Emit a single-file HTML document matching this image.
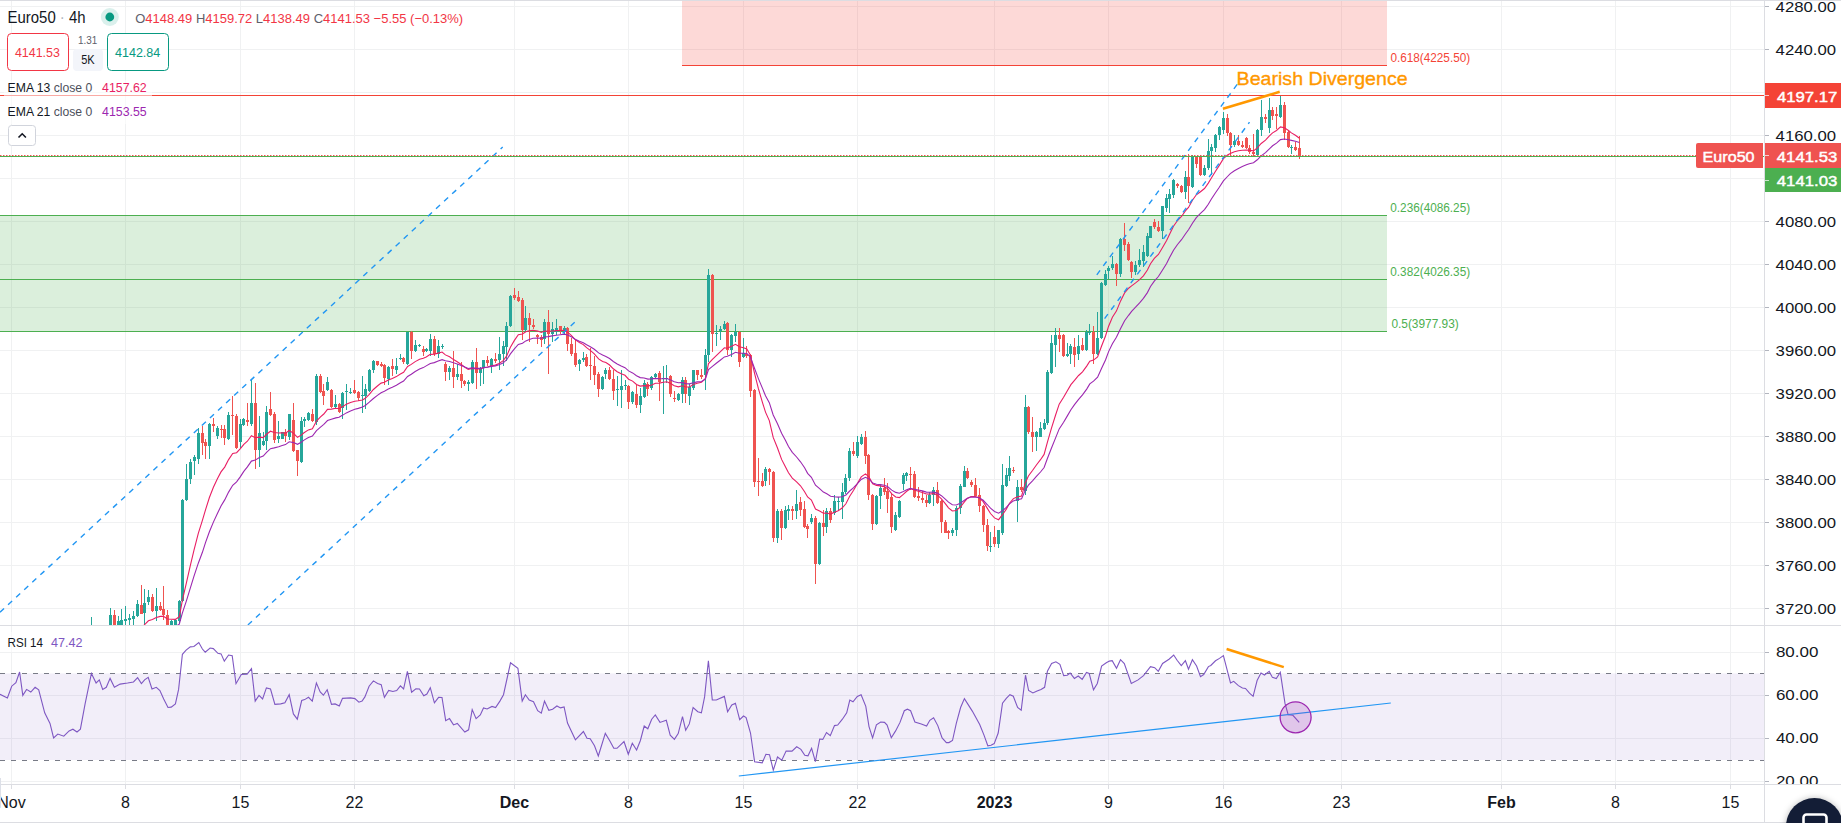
<!DOCTYPE html>
<html><head><meta charset="utf-8"><style>
html,body{margin:0;padding:0;background:#fff;}
body{width:1841px;height:823px;overflow:hidden;position:relative;font-family:'Liberation Sans', sans-serif;}
svg{position:absolute;left:0;top:0;display:block;}
text{font-family:'Liberation Sans', sans-serif;}
</style></head><body>
<svg width="1841" height="823" viewBox="0 0 1841 823">
<defs>
<clipPath id="cm"><rect x="0" y="1" width="1764" height="624"/></clipPath>
<clipPath id="cr"><rect x="0" y="626" width="1764" height="158"/></clipPath>
<clipPath id="ca"><rect x="1765" y="626" width="76" height="158"/></clipPath>
<filter id="sh" x="-50%" y="-50%" width="200%" height="200%"><feGaussianBlur stdDeviation="3"/></filter>
</defs>
<rect x="0" y="0" width="1841" height="823" fill="#ffffff"/>

<g clip-path="url(#cm)">
<line x1="11.5" y1="0" x2="11.5" y2="625" stroke="#f0f1f2" stroke-width="1"/>
<line x1="125.5" y1="0" x2="125.5" y2="625" stroke="#f0f1f2" stroke-width="1"/>
<line x1="240.5" y1="0" x2="240.5" y2="625" stroke="#f0f1f2" stroke-width="1"/>
<line x1="354.5" y1="0" x2="354.5" y2="625" stroke="#f0f1f2" stroke-width="1"/>
<line x1="514.5" y1="0" x2="514.5" y2="625" stroke="#f0f1f2" stroke-width="1"/>
<line x1="628.5" y1="0" x2="628.5" y2="625" stroke="#f0f1f2" stroke-width="1"/>
<line x1="743.5" y1="0" x2="743.5" y2="625" stroke="#f0f1f2" stroke-width="1"/>
<line x1="857.5" y1="0" x2="857.5" y2="625" stroke="#f0f1f2" stroke-width="1"/>
<line x1="994.5" y1="0" x2="994.5" y2="625" stroke="#f0f1f2" stroke-width="1"/>
<line x1="1108.5" y1="0" x2="1108.5" y2="625" stroke="#f0f1f2" stroke-width="1"/>
<line x1="1223.5" y1="0" x2="1223.5" y2="625" stroke="#f0f1f2" stroke-width="1"/>
<line x1="1341.5" y1="0" x2="1341.5" y2="625" stroke="#f0f1f2" stroke-width="1"/>
<line x1="1501.5" y1="0" x2="1501.5" y2="625" stroke="#f0f1f2" stroke-width="1"/>
<line x1="1615.5" y1="0" x2="1615.5" y2="625" stroke="#f0f1f2" stroke-width="1"/>
<line x1="1730.5" y1="0" x2="1730.5" y2="625" stroke="#f0f1f2" stroke-width="1"/>
<line x1="0" y1="6.5" x2="1764" y2="6.5" stroke="#f0f1f2" stroke-width="1"/>
<line x1="0" y1="49.5" x2="1764" y2="49.5" stroke="#f0f1f2" stroke-width="1"/>
<line x1="0" y1="92.5" x2="1764" y2="92.5" stroke="#f0f1f2" stroke-width="1"/>
<line x1="0" y1="135.5" x2="1764" y2="135.5" stroke="#f0f1f2" stroke-width="1"/>
<line x1="0" y1="178.5" x2="1764" y2="178.5" stroke="#f0f1f2" stroke-width="1"/>
<line x1="0" y1="221.5" x2="1764" y2="221.5" stroke="#f0f1f2" stroke-width="1"/>
<line x1="0" y1="264.5" x2="1764" y2="264.5" stroke="#f0f1f2" stroke-width="1"/>
<line x1="0" y1="307.5" x2="1764" y2="307.5" stroke="#f0f1f2" stroke-width="1"/>
<line x1="0" y1="350.5" x2="1764" y2="350.5" stroke="#f0f1f2" stroke-width="1"/>
<line x1="0" y1="393.5" x2="1764" y2="393.5" stroke="#f0f1f2" stroke-width="1"/>
<line x1="0" y1="436.5" x2="1764" y2="436.5" stroke="#f0f1f2" stroke-width="1"/>
<line x1="0" y1="479.5" x2="1764" y2="479.5" stroke="#f0f1f2" stroke-width="1"/>
<line x1="0" y1="522.5" x2="1764" y2="522.5" stroke="#f0f1f2" stroke-width="1"/>
<line x1="0" y1="565.5" x2="1764" y2="565.5" stroke="#f0f1f2" stroke-width="1"/>
<line x1="0" y1="608.5" x2="1764" y2="608.5" stroke="#f0f1f2" stroke-width="1"/>
<rect x="682" y="0" width="705" height="65" fill="rgba(244,67,54,0.2)"/>
<rect x="0" y="215.5" width="1387" height="115.5" fill="rgba(76,175,80,0.2)"/>
<line x1="682" y1="65.5" x2="1387" y2="65.5" stroke="#f44336" stroke-width="1"/>
<line x1="0" y1="215.5" x2="1387" y2="215.5" stroke="#4caf50" stroke-width="1"/>
<line x1="0" y1="279.5" x2="1387" y2="279.5" stroke="#4caf50" stroke-width="1"/>
<line x1="0" y1="331.5" x2="1387" y2="331.5" stroke="#4caf50" stroke-width="1"/>
<line x1="0" y1="95.5" x2="1764" y2="95.5" stroke="#f44336" stroke-width="1"/>
<rect x="91" y="617" width="1" height="24" fill="#26a69a"/>
<rect x="90" y="630" width="3" height="10" fill="#26a69a"/>
<rect x="95" y="638" width="1" height="5" fill="#ef5350"/>
<rect x="94" y="640" width="3" height="1" fill="#ef5350"/>
<rect x="99" y="638" width="1" height="5" fill="#ef5350"/>
<rect x="98" y="640" width="3" height="1" fill="#ef5350"/>
<rect x="102" y="638" width="1" height="5" fill="#ef5350"/>
<rect x="101" y="640" width="3" height="1" fill="#ef5350"/>
<rect x="106" y="638" width="1" height="5" fill="#ef5350"/>
<rect x="105" y="640" width="3" height="1" fill="#ef5350"/>
<rect x="110" y="608" width="1" height="19" fill="#26a69a"/>
<rect x="109" y="615" width="3" height="10" fill="#26a69a"/>
<rect x="114" y="610" width="1" height="17" fill="#ef5350"/>
<rect x="113" y="615" width="3" height="10" fill="#ef5350"/>
<rect x="118" y="616" width="1" height="10" fill="#26a69a"/>
<rect x="117" y="621" width="3" height="4" fill="#26a69a"/>
<rect x="121" y="609" width="1" height="17" fill="#26a69a"/>
<rect x="120" y="620" width="3" height="5" fill="#26a69a"/>
<rect x="125" y="606" width="1" height="19" fill="#26a69a"/>
<rect x="124" y="619" width="3" height="2" fill="#26a69a"/>
<rect x="129" y="614" width="1" height="11" fill="#26a69a"/>
<rect x="128" y="618" width="3" height="2" fill="#26a69a"/>
<rect x="133" y="611" width="1" height="14" fill="#26a69a"/>
<rect x="132" y="616" width="3" height="3" fill="#26a69a"/>
<rect x="137" y="600" width="1" height="17" fill="#26a69a"/>
<rect x="136" y="604" width="3" height="12" fill="#26a69a"/>
<rect x="141" y="585" width="1" height="29" fill="#ef5350"/>
<rect x="140" y="605" width="3" height="9" fill="#ef5350"/>
<rect x="144" y="589" width="1" height="36" fill="#26a69a"/>
<rect x="143" y="603" width="3" height="10" fill="#26a69a"/>
<rect x="148" y="590" width="1" height="15" fill="#26a69a"/>
<rect x="147" y="597" width="3" height="5" fill="#26a69a"/>
<rect x="152" y="594" width="1" height="18" fill="#ef5350"/>
<rect x="151" y="597" width="3" height="14" fill="#ef5350"/>
<rect x="156" y="588" width="1" height="33" fill="#26a69a"/>
<rect x="155" y="606" width="3" height="5" fill="#26a69a"/>
<rect x="160" y="602" width="1" height="9" fill="#ef5350"/>
<rect x="159" y="606" width="3" height="4" fill="#ef5350"/>
<rect x="163" y="586" width="1" height="34" fill="#ef5350"/>
<rect x="162" y="609" width="3" height="6" fill="#ef5350"/>
<rect x="167" y="610" width="1" height="28" fill="#ef5350"/>
<rect x="166" y="615" width="3" height="21" fill="#ef5350"/>
<rect x="171" y="620" width="1" height="17" fill="#26a69a"/>
<rect x="170" y="621" width="3" height="15" fill="#26a69a"/>
<rect x="175" y="619" width="1" height="12" fill="#26a69a"/>
<rect x="174" y="620" width="3" height="10" fill="#26a69a"/>
<rect x="179" y="600" width="1" height="24" fill="#26a69a"/>
<rect x="178" y="601" width="3" height="20" fill="#26a69a"/>
<rect x="182" y="499" width="1" height="103" fill="#26a69a"/>
<rect x="181" y="500" width="3" height="101" fill="#26a69a"/>
<rect x="186" y="464" width="1" height="37" fill="#26a69a"/>
<rect x="185" y="479" width="3" height="21" fill="#26a69a"/>
<rect x="190" y="459" width="1" height="25" fill="#26a69a"/>
<rect x="189" y="462" width="3" height="17" fill="#26a69a"/>
<rect x="194" y="455" width="1" height="20" fill="#26a69a"/>
<rect x="193" y="457" width="3" height="4" fill="#26a69a"/>
<rect x="198" y="428" width="1" height="36" fill="#26a69a"/>
<rect x="197" y="433" width="3" height="26" fill="#26a69a"/>
<rect x="202" y="426" width="1" height="29" fill="#ef5350"/>
<rect x="201" y="433" width="3" height="10" fill="#ef5350"/>
<rect x="205" y="439" width="1" height="20" fill="#ef5350"/>
<rect x="204" y="442" width="3" height="4" fill="#ef5350"/>
<rect x="209" y="423" width="1" height="36" fill="#26a69a"/>
<rect x="208" y="424" width="3" height="22" fill="#26a69a"/>
<rect x="213" y="418" width="1" height="14" fill="#ef5350"/>
<rect x="212" y="424" width="3" height="2" fill="#ef5350"/>
<rect x="217" y="426" width="1" height="13" fill="#26a69a"/>
<rect x="216" y="428" width="3" height="8" fill="#26a69a"/>
<rect x="221" y="425" width="1" height="13" fill="#ef5350"/>
<rect x="220" y="429" width="3" height="1" fill="#ef5350"/>
<rect x="224" y="425" width="1" height="20" fill="#ef5350"/>
<rect x="223" y="429" width="3" height="9" fill="#ef5350"/>
<rect x="228" y="412" width="1" height="28" fill="#26a69a"/>
<rect x="227" y="415" width="3" height="24" fill="#26a69a"/>
<rect x="232" y="396" width="1" height="39" fill="#ef5350"/>
<rect x="231" y="415" width="3" height="1" fill="#ef5350"/>
<rect x="236" y="414" width="1" height="35" fill="#ef5350"/>
<rect x="235" y="416" width="3" height="32" fill="#ef5350"/>
<rect x="240" y="419" width="1" height="29" fill="#26a69a"/>
<rect x="239" y="424" width="3" height="18" fill="#26a69a"/>
<rect x="243" y="418" width="1" height="8" fill="#26a69a"/>
<rect x="242" y="419" width="3" height="6" fill="#26a69a"/>
<rect x="247" y="403" width="1" height="23" fill="#ef5350"/>
<rect x="246" y="420" width="3" height="2" fill="#ef5350"/>
<rect x="251" y="379" width="1" height="47" fill="#26a69a"/>
<rect x="250" y="403" width="3" height="21" fill="#26a69a"/>
<rect x="255" y="383" width="1" height="86" fill="#ef5350"/>
<rect x="254" y="403" width="3" height="47" fill="#ef5350"/>
<rect x="259" y="416" width="1" height="51" fill="#26a69a"/>
<rect x="258" y="433" width="3" height="17" fill="#26a69a"/>
<rect x="263" y="432" width="1" height="14" fill="#26a69a"/>
<rect x="262" y="441" width="3" height="4" fill="#26a69a"/>
<rect x="266" y="406" width="1" height="44" fill="#26a69a"/>
<rect x="265" y="412" width="3" height="29" fill="#26a69a"/>
<rect x="270" y="392" width="1" height="24" fill="#ef5350"/>
<rect x="269" y="409" width="3" height="6" fill="#ef5350"/>
<rect x="274" y="412" width="1" height="31" fill="#ef5350"/>
<rect x="273" y="414" width="3" height="26" fill="#ef5350"/>
<rect x="278" y="421" width="1" height="22" fill="#26a69a"/>
<rect x="277" y="436" width="3" height="3" fill="#26a69a"/>
<rect x="282" y="432" width="1" height="7" fill="#26a69a"/>
<rect x="281" y="432" width="3" height="7" fill="#26a69a"/>
<rect x="285" y="429" width="1" height="13" fill="#ef5350"/>
<rect x="284" y="432" width="3" height="4" fill="#ef5350"/>
<rect x="289" y="414" width="1" height="26" fill="#26a69a"/>
<rect x="288" y="414" width="3" height="23" fill="#26a69a"/>
<rect x="293" y="403" width="1" height="49" fill="#ef5350"/>
<rect x="292" y="420" width="3" height="31" fill="#ef5350"/>
<rect x="297" y="450" width="1" height="26" fill="#ef5350"/>
<rect x="296" y="450" width="3" height="11" fill="#ef5350"/>
<rect x="301" y="417" width="1" height="46" fill="#26a69a"/>
<rect x="300" y="421" width="3" height="41" fill="#26a69a"/>
<rect x="304" y="417" width="1" height="10" fill="#26a69a"/>
<rect x="303" y="419" width="3" height="2" fill="#26a69a"/>
<rect x="308" y="412" width="1" height="9" fill="#26a69a"/>
<rect x="307" y="413" width="3" height="7" fill="#26a69a"/>
<rect x="312" y="409" width="1" height="13" fill="#ef5350"/>
<rect x="311" y="414" width="3" height="7" fill="#ef5350"/>
<rect x="316" y="374" width="1" height="51" fill="#26a69a"/>
<rect x="315" y="376" width="3" height="46" fill="#26a69a"/>
<rect x="320" y="374" width="1" height="19" fill="#ef5350"/>
<rect x="319" y="376" width="3" height="16" fill="#ef5350"/>
<rect x="323" y="384" width="1" height="21" fill="#ef5350"/>
<rect x="322" y="391" width="3" height="5" fill="#ef5350"/>
<rect x="327" y="377" width="1" height="14" fill="#26a69a"/>
<rect x="326" y="382" width="3" height="8" fill="#26a69a"/>
<rect x="331" y="389" width="1" height="19" fill="#ef5350"/>
<rect x="330" y="390" width="3" height="17" fill="#ef5350"/>
<rect x="335" y="395" width="1" height="13" fill="#26a69a"/>
<rect x="334" y="404" width="3" height="3" fill="#26a69a"/>
<rect x="339" y="403" width="1" height="10" fill="#ef5350"/>
<rect x="338" y="404" width="3" height="8" fill="#ef5350"/>
<rect x="342" y="392" width="1" height="27" fill="#26a69a"/>
<rect x="341" y="393" width="3" height="15" fill="#26a69a"/>
<rect x="346" y="384" width="1" height="26" fill="#26a69a"/>
<rect x="345" y="391" width="3" height="1" fill="#26a69a"/>
<rect x="350" y="388" width="1" height="6" fill="#26a69a"/>
<rect x="349" y="392" width="3" height="1" fill="#26a69a"/>
<rect x="354" y="380" width="1" height="14" fill="#ef5350"/>
<rect x="353" y="390" width="3" height="3" fill="#ef5350"/>
<rect x="358" y="391" width="1" height="10" fill="#ef5350"/>
<rect x="357" y="392" width="3" height="6" fill="#ef5350"/>
<rect x="362" y="376" width="1" height="37" fill="#26a69a"/>
<rect x="361" y="395" width="3" height="1" fill="#26a69a"/>
<rect x="365" y="384" width="1" height="25" fill="#26a69a"/>
<rect x="364" y="389" width="3" height="7" fill="#26a69a"/>
<rect x="369" y="369" width="1" height="23" fill="#26a69a"/>
<rect x="368" y="370" width="3" height="21" fill="#26a69a"/>
<rect x="373" y="360" width="1" height="13" fill="#26a69a"/>
<rect x="372" y="361" width="3" height="9" fill="#26a69a"/>
<rect x="377" y="361" width="1" height="5" fill="#ef5350"/>
<rect x="376" y="361" width="3" height="4" fill="#ef5350"/>
<rect x="381" y="362" width="1" height="5" fill="#ef5350"/>
<rect x="380" y="364" width="3" height="2" fill="#ef5350"/>
<rect x="384" y="364" width="1" height="21" fill="#ef5350"/>
<rect x="383" y="365" width="3" height="13" fill="#ef5350"/>
<rect x="388" y="366" width="1" height="19" fill="#26a69a"/>
<rect x="387" y="367" width="3" height="12" fill="#26a69a"/>
<rect x="392" y="359" width="1" height="17" fill="#ef5350"/>
<rect x="391" y="366" width="3" height="3" fill="#ef5350"/>
<rect x="396" y="358" width="1" height="16" fill="#26a69a"/>
<rect x="395" y="366" width="3" height="4" fill="#26a69a"/>
<rect x="400" y="354" width="1" height="6" fill="#26a69a"/>
<rect x="399" y="358" width="3" height="1" fill="#26a69a"/>
<rect x="403" y="357" width="1" height="7" fill="#ef5350"/>
<rect x="402" y="358" width="3" height="4" fill="#ef5350"/>
<rect x="407" y="332" width="1" height="33" fill="#26a69a"/>
<rect x="406" y="332" width="3" height="32" fill="#26a69a"/>
<rect x="411" y="331" width="1" height="28" fill="#ef5350"/>
<rect x="410" y="332" width="3" height="19" fill="#ef5350"/>
<rect x="415" y="340" width="1" height="12" fill="#26a69a"/>
<rect x="414" y="345" width="3" height="6" fill="#26a69a"/>
<rect x="419" y="344" width="1" height="3" fill="#26a69a"/>
<rect x="418" y="345" width="3" height="1" fill="#26a69a"/>
<rect x="423" y="346" width="1" height="10" fill="#ef5350"/>
<rect x="422" y="349" width="3" height="3" fill="#ef5350"/>
<rect x="426" y="348" width="1" height="4" fill="#26a69a"/>
<rect x="425" y="349" width="3" height="2" fill="#26a69a"/>
<rect x="430" y="334" width="1" height="22" fill="#26a69a"/>
<rect x="429" y="339" width="3" height="12" fill="#26a69a"/>
<rect x="434" y="336" width="1" height="20" fill="#ef5350"/>
<rect x="433" y="339" width="3" height="15" fill="#ef5350"/>
<rect x="438" y="340" width="1" height="18" fill="#26a69a"/>
<rect x="437" y="346" width="3" height="8" fill="#26a69a"/>
<rect x="442" y="344" width="1" height="5" fill="#26a69a"/>
<rect x="441" y="346" width="3" height="1" fill="#26a69a"/>
<rect x="445" y="362" width="1" height="19" fill="#ef5350"/>
<rect x="444" y="364" width="3" height="8" fill="#ef5350"/>
<rect x="449" y="366" width="1" height="14" fill="#26a69a"/>
<rect x="448" y="368" width="3" height="4" fill="#26a69a"/>
<rect x="453" y="351" width="1" height="37" fill="#ef5350"/>
<rect x="452" y="368" width="3" height="9" fill="#ef5350"/>
<rect x="457" y="364" width="1" height="16" fill="#26a69a"/>
<rect x="456" y="374" width="3" height="3" fill="#26a69a"/>
<rect x="461" y="362" width="1" height="26" fill="#ef5350"/>
<rect x="460" y="374" width="3" height="7" fill="#ef5350"/>
<rect x="464" y="380" width="1" height="6" fill="#ef5350"/>
<rect x="463" y="381" width="3" height="3" fill="#ef5350"/>
<rect x="468" y="380" width="1" height="11" fill="#26a69a"/>
<rect x="467" y="382" width="3" height="2" fill="#26a69a"/>
<rect x="472" y="360" width="1" height="24" fill="#26a69a"/>
<rect x="471" y="362" width="3" height="21" fill="#26a69a"/>
<rect x="476" y="348" width="1" height="41" fill="#ef5350"/>
<rect x="475" y="362" width="3" height="11" fill="#ef5350"/>
<rect x="480" y="367" width="1" height="19" fill="#26a69a"/>
<rect x="479" y="368" width="3" height="5" fill="#26a69a"/>
<rect x="483" y="360" width="1" height="24" fill="#26a69a"/>
<rect x="482" y="360" width="3" height="8" fill="#26a69a"/>
<rect x="487" y="356" width="1" height="10" fill="#ef5350"/>
<rect x="486" y="360" width="3" height="3" fill="#ef5350"/>
<rect x="491" y="358" width="1" height="15" fill="#26a69a"/>
<rect x="490" y="359" width="3" height="7" fill="#26a69a"/>
<rect x="495" y="353" width="1" height="10" fill="#ef5350"/>
<rect x="494" y="359" width="3" height="2" fill="#ef5350"/>
<rect x="499" y="337" width="1" height="33" fill="#26a69a"/>
<rect x="498" y="354" width="3" height="6" fill="#26a69a"/>
<rect x="503" y="341" width="1" height="25" fill="#26a69a"/>
<rect x="502" y="346" width="3" height="8" fill="#26a69a"/>
<rect x="506" y="322" width="1" height="39" fill="#26a69a"/>
<rect x="505" y="326" width="3" height="21" fill="#26a69a"/>
<rect x="510" y="295" width="1" height="32" fill="#26a69a"/>
<rect x="509" y="296" width="3" height="30" fill="#26a69a"/>
<rect x="514" y="288" width="1" height="12" fill="#ef5350"/>
<rect x="513" y="295" width="3" height="3" fill="#ef5350"/>
<rect x="518" y="291" width="1" height="11" fill="#ef5350"/>
<rect x="517" y="297" width="3" height="4" fill="#ef5350"/>
<rect x="522" y="298" width="1" height="42" fill="#ef5350"/>
<rect x="521" y="300" width="3" height="30" fill="#ef5350"/>
<rect x="525" y="306" width="1" height="26" fill="#26a69a"/>
<rect x="524" y="318" width="3" height="12" fill="#26a69a"/>
<rect x="529" y="313" width="1" height="29" fill="#ef5350"/>
<rect x="528" y="318" width="3" height="7" fill="#ef5350"/>
<rect x="533" y="319" width="1" height="10" fill="#ef5350"/>
<rect x="532" y="325" width="3" height="2" fill="#ef5350"/>
<rect x="537" y="334" width="1" height="10" fill="#ef5350"/>
<rect x="536" y="335" width="3" height="2" fill="#ef5350"/>
<rect x="541" y="335" width="1" height="12" fill="#ef5350"/>
<rect x="540" y="337" width="3" height="3" fill="#ef5350"/>
<rect x="544" y="319" width="1" height="25" fill="#26a69a"/>
<rect x="543" y="322" width="3" height="17" fill="#26a69a"/>
<rect x="548" y="310" width="1" height="64" fill="#ef5350"/>
<rect x="547" y="322" width="3" height="12" fill="#ef5350"/>
<rect x="552" y="322" width="1" height="20" fill="#26a69a"/>
<rect x="551" y="329" width="3" height="5" fill="#26a69a"/>
<rect x="556" y="319" width="1" height="16" fill="#26a69a"/>
<rect x="555" y="328" width="3" height="4" fill="#26a69a"/>
<rect x="560" y="326" width="1" height="8" fill="#ef5350"/>
<rect x="559" y="326" width="3" height="4" fill="#ef5350"/>
<rect x="564" y="326" width="1" height="8" fill="#26a69a"/>
<rect x="563" y="328" width="3" height="2" fill="#26a69a"/>
<rect x="567" y="327" width="1" height="24" fill="#ef5350"/>
<rect x="566" y="328" width="3" height="16" fill="#ef5350"/>
<rect x="571" y="338" width="1" height="18" fill="#ef5350"/>
<rect x="570" y="344" width="3" height="10" fill="#ef5350"/>
<rect x="575" y="340" width="1" height="27" fill="#ef5350"/>
<rect x="574" y="353" width="3" height="12" fill="#ef5350"/>
<rect x="579" y="359" width="1" height="12" fill="#26a69a"/>
<rect x="578" y="360" width="3" height="4" fill="#26a69a"/>
<rect x="583" y="352" width="1" height="10" fill="#26a69a"/>
<rect x="582" y="358" width="3" height="2" fill="#26a69a"/>
<rect x="586" y="354" width="1" height="13" fill="#ef5350"/>
<rect x="585" y="357" width="3" height="9" fill="#ef5350"/>
<rect x="590" y="348" width="1" height="32" fill="#ef5350"/>
<rect x="589" y="365" width="3" height="1" fill="#ef5350"/>
<rect x="594" y="356" width="1" height="29" fill="#ef5350"/>
<rect x="593" y="366" width="3" height="9" fill="#ef5350"/>
<rect x="598" y="372" width="1" height="25" fill="#ef5350"/>
<rect x="597" y="374" width="3" height="15" fill="#ef5350"/>
<rect x="602" y="376" width="1" height="14" fill="#26a69a"/>
<rect x="601" y="377" width="3" height="12" fill="#26a69a"/>
<rect x="605" y="368" width="1" height="11" fill="#26a69a"/>
<rect x="604" y="370" width="3" height="4" fill="#26a69a"/>
<rect x="609" y="367" width="1" height="13" fill="#ef5350"/>
<rect x="608" y="370" width="3" height="9" fill="#ef5350"/>
<rect x="613" y="370" width="1" height="30" fill="#ef5350"/>
<rect x="612" y="379" width="3" height="12" fill="#ef5350"/>
<rect x="617" y="376" width="1" height="30" fill="#26a69a"/>
<rect x="616" y="389" width="3" height="1" fill="#26a69a"/>
<rect x="621" y="370" width="1" height="38" fill="#26a69a"/>
<rect x="620" y="386" width="3" height="4" fill="#26a69a"/>
<rect x="625" y="380" width="1" height="10" fill="#26a69a"/>
<rect x="624" y="385" width="3" height="1" fill="#26a69a"/>
<rect x="628" y="385" width="1" height="24" fill="#ef5350"/>
<rect x="627" y="386" width="3" height="16" fill="#ef5350"/>
<rect x="632" y="391" width="1" height="13" fill="#26a69a"/>
<rect x="631" y="392" width="3" height="10" fill="#26a69a"/>
<rect x="636" y="385" width="1" height="23" fill="#ef5350"/>
<rect x="635" y="394" width="3" height="11" fill="#ef5350"/>
<rect x="640" y="388" width="1" height="25" fill="#26a69a"/>
<rect x="639" y="396" width="3" height="9" fill="#26a69a"/>
<rect x="644" y="380" width="1" height="18" fill="#26a69a"/>
<rect x="643" y="383" width="3" height="14" fill="#26a69a"/>
<rect x="647" y="382" width="1" height="14" fill="#ef5350"/>
<rect x="646" y="384" width="3" height="5" fill="#ef5350"/>
<rect x="651" y="376" width="1" height="14" fill="#26a69a"/>
<rect x="650" y="377" width="3" height="11" fill="#26a69a"/>
<rect x="655" y="373" width="1" height="5" fill="#26a69a"/>
<rect x="654" y="374" width="3" height="3" fill="#26a69a"/>
<rect x="659" y="371" width="1" height="30" fill="#ef5350"/>
<rect x="658" y="373" width="3" height="9" fill="#ef5350"/>
<rect x="663" y="366" width="1" height="48" fill="#26a69a"/>
<rect x="662" y="378" width="3" height="1" fill="#26a69a"/>
<rect x="666" y="365" width="1" height="18" fill="#26a69a"/>
<rect x="665" y="378" width="3" height="1" fill="#26a69a"/>
<rect x="670" y="375" width="1" height="22" fill="#ef5350"/>
<rect x="669" y="376" width="3" height="18" fill="#ef5350"/>
<rect x="674" y="391" width="1" height="11" fill="#ef5350"/>
<rect x="673" y="398" width="3" height="1" fill="#ef5350"/>
<rect x="678" y="393" width="1" height="8" fill="#26a69a"/>
<rect x="677" y="394" width="3" height="6" fill="#26a69a"/>
<rect x="682" y="377" width="1" height="26" fill="#26a69a"/>
<rect x="681" y="380" width="3" height="14" fill="#26a69a"/>
<rect x="685" y="377" width="1" height="26" fill="#ef5350"/>
<rect x="684" y="380" width="3" height="14" fill="#ef5350"/>
<rect x="689" y="384" width="1" height="21" fill="#26a69a"/>
<rect x="688" y="387" width="3" height="9" fill="#26a69a"/>
<rect x="693" y="370" width="1" height="20" fill="#26a69a"/>
<rect x="692" y="370" width="3" height="18" fill="#26a69a"/>
<rect x="697" y="370" width="1" height="10" fill="#ef5350"/>
<rect x="696" y="370" width="3" height="5" fill="#ef5350"/>
<rect x="701" y="369" width="1" height="10" fill="#ef5350"/>
<rect x="700" y="375" width="3" height="2" fill="#ef5350"/>
<rect x="705" y="349" width="1" height="41" fill="#26a69a"/>
<rect x="704" y="355" width="3" height="20" fill="#26a69a"/>
<rect x="708" y="269" width="1" height="93" fill="#26a69a"/>
<rect x="707" y="275" width="3" height="80" fill="#26a69a"/>
<rect x="712" y="274" width="1" height="78" fill="#ef5350"/>
<rect x="711" y="275" width="3" height="59" fill="#ef5350"/>
<rect x="716" y="325" width="1" height="21" fill="#26a69a"/>
<rect x="715" y="333" width="3" height="1" fill="#26a69a"/>
<rect x="720" y="326" width="1" height="14" fill="#26a69a"/>
<rect x="719" y="329" width="3" height="2" fill="#26a69a"/>
<rect x="724" y="321" width="1" height="9" fill="#26a69a"/>
<rect x="723" y="324" width="3" height="5" fill="#26a69a"/>
<rect x="727" y="322" width="1" height="33" fill="#ef5350"/>
<rect x="726" y="323" width="3" height="27" fill="#ef5350"/>
<rect x="731" y="334" width="1" height="23" fill="#26a69a"/>
<rect x="730" y="335" width="3" height="15" fill="#26a69a"/>
<rect x="735" y="324" width="1" height="18" fill="#26a69a"/>
<rect x="734" y="332" width="3" height="4" fill="#26a69a"/>
<rect x="739" y="331" width="1" height="36" fill="#ef5350"/>
<rect x="738" y="332" width="3" height="30" fill="#ef5350"/>
<rect x="743" y="338" width="1" height="20" fill="#26a69a"/>
<rect x="742" y="353" width="3" height="4" fill="#26a69a"/>
<rect x="746" y="346" width="1" height="12" fill="#ef5350"/>
<rect x="745" y="354" width="3" height="2" fill="#ef5350"/>
<rect x="750" y="354" width="1" height="43" fill="#ef5350"/>
<rect x="749" y="355" width="3" height="36" fill="#ef5350"/>
<rect x="754" y="389" width="1" height="98" fill="#ef5350"/>
<rect x="753" y="390" width="3" height="92" fill="#ef5350"/>
<rect x="758" y="458" width="1" height="38" fill="#ef5350"/>
<rect x="757" y="481" width="3" height="1" fill="#ef5350"/>
<rect x="762" y="473" width="1" height="14" fill="#ef5350"/>
<rect x="761" y="481" width="3" height="5" fill="#ef5350"/>
<rect x="765" y="467" width="1" height="19" fill="#26a69a"/>
<rect x="764" y="469" width="3" height="12" fill="#26a69a"/>
<rect x="769" y="468" width="1" height="17" fill="#ef5350"/>
<rect x="768" y="469" width="3" height="3" fill="#ef5350"/>
<rect x="773" y="471" width="1" height="71" fill="#ef5350"/>
<rect x="772" y="472" width="3" height="66" fill="#ef5350"/>
<rect x="777" y="509" width="1" height="34" fill="#26a69a"/>
<rect x="776" y="511" width="3" height="27" fill="#26a69a"/>
<rect x="781" y="509" width="1" height="31" fill="#ef5350"/>
<rect x="780" y="511" width="3" height="17" fill="#ef5350"/>
<rect x="785" y="506" width="1" height="23" fill="#26a69a"/>
<rect x="784" y="510" width="3" height="18" fill="#26a69a"/>
<rect x="788" y="505" width="1" height="15" fill="#26a69a"/>
<rect x="787" y="509" width="3" height="2" fill="#26a69a"/>
<rect x="792" y="506" width="1" height="14" fill="#ef5350"/>
<rect x="791" y="509" width="3" height="2" fill="#ef5350"/>
<rect x="796" y="490" width="1" height="29" fill="#26a69a"/>
<rect x="795" y="504" width="3" height="7" fill="#26a69a"/>
<rect x="800" y="497" width="1" height="19" fill="#ef5350"/>
<rect x="799" y="502" width="3" height="8" fill="#ef5350"/>
<rect x="804" y="501" width="1" height="27" fill="#ef5350"/>
<rect x="803" y="509" width="3" height="18" fill="#ef5350"/>
<rect x="807" y="524" width="1" height="14" fill="#ef5350"/>
<rect x="806" y="526" width="3" height="3" fill="#ef5350"/>
<rect x="811" y="514" width="1" height="10" fill="#26a69a"/>
<rect x="810" y="518" width="3" height="4" fill="#26a69a"/>
<rect x="815" y="516" width="1" height="68" fill="#ef5350"/>
<rect x="814" y="518" width="3" height="46" fill="#ef5350"/>
<rect x="819" y="522" width="1" height="43" fill="#26a69a"/>
<rect x="818" y="523" width="3" height="41" fill="#26a69a"/>
<rect x="823" y="510" width="1" height="26" fill="#ef5350"/>
<rect x="822" y="523" width="3" height="4" fill="#ef5350"/>
<rect x="826" y="508" width="1" height="25" fill="#26a69a"/>
<rect x="825" y="511" width="3" height="16" fill="#26a69a"/>
<rect x="830" y="508" width="1" height="15" fill="#ef5350"/>
<rect x="829" y="511" width="3" height="9" fill="#ef5350"/>
<rect x="834" y="495" width="1" height="20" fill="#26a69a"/>
<rect x="833" y="501" width="3" height="12" fill="#26a69a"/>
<rect x="838" y="497" width="1" height="13" fill="#26a69a"/>
<rect x="837" y="501" width="3" height="1" fill="#26a69a"/>
<rect x="842" y="483" width="1" height="36" fill="#26a69a"/>
<rect x="841" y="492" width="3" height="10" fill="#26a69a"/>
<rect x="845" y="474" width="1" height="20" fill="#26a69a"/>
<rect x="844" y="478" width="3" height="14" fill="#26a69a"/>
<rect x="849" y="448" width="1" height="33" fill="#26a69a"/>
<rect x="848" y="451" width="3" height="27" fill="#26a69a"/>
<rect x="853" y="442" width="1" height="14" fill="#ef5350"/>
<rect x="852" y="451" width="3" height="3" fill="#ef5350"/>
<rect x="857" y="436" width="1" height="22" fill="#26a69a"/>
<rect x="856" y="442" width="3" height="14" fill="#26a69a"/>
<rect x="861" y="434" width="1" height="11" fill="#26a69a"/>
<rect x="860" y="437" width="3" height="7" fill="#26a69a"/>
<rect x="865" y="431" width="1" height="33" fill="#ef5350"/>
<rect x="864" y="437" width="3" height="19" fill="#ef5350"/>
<rect x="868" y="454" width="1" height="46" fill="#ef5350"/>
<rect x="867" y="455" width="3" height="40" fill="#ef5350"/>
<rect x="872" y="494" width="1" height="36" fill="#ef5350"/>
<rect x="871" y="495" width="3" height="29" fill="#ef5350"/>
<rect x="876" y="495" width="1" height="30" fill="#26a69a"/>
<rect x="875" y="496" width="3" height="28" fill="#26a69a"/>
<rect x="880" y="485" width="1" height="24" fill="#26a69a"/>
<rect x="879" y="488" width="3" height="8" fill="#26a69a"/>
<rect x="884" y="478" width="1" height="17" fill="#ef5350"/>
<rect x="883" y="488" width="3" height="4" fill="#ef5350"/>
<rect x="887" y="483" width="1" height="30" fill="#ef5350"/>
<rect x="886" y="491" width="3" height="8" fill="#ef5350"/>
<rect x="891" y="494" width="1" height="39" fill="#ef5350"/>
<rect x="890" y="497" width="3" height="30" fill="#ef5350"/>
<rect x="895" y="512" width="1" height="19" fill="#26a69a"/>
<rect x="894" y="515" width="3" height="15" fill="#26a69a"/>
<rect x="899" y="500" width="1" height="18" fill="#26a69a"/>
<rect x="898" y="501" width="3" height="16" fill="#26a69a"/>
<rect x="903" y="473" width="1" height="17" fill="#26a69a"/>
<rect x="902" y="475" width="3" height="9" fill="#26a69a"/>
<rect x="906" y="472" width="1" height="9" fill="#26a69a"/>
<rect x="905" y="473" width="3" height="3" fill="#26a69a"/>
<rect x="910" y="467" width="1" height="23" fill="#ef5350"/>
<rect x="909" y="474" width="3" height="1" fill="#ef5350"/>
<rect x="914" y="471" width="1" height="27" fill="#ef5350"/>
<rect x="913" y="474" width="3" height="23" fill="#ef5350"/>
<rect x="918" y="487" width="1" height="14" fill="#ef5350"/>
<rect x="917" y="496" width="3" height="2" fill="#ef5350"/>
<rect x="922" y="491" width="1" height="12" fill="#ef5350"/>
<rect x="921" y="498" width="3" height="2" fill="#ef5350"/>
<rect x="926" y="495" width="1" height="12" fill="#ef5350"/>
<rect x="925" y="500" width="3" height="3" fill="#ef5350"/>
<rect x="929" y="492" width="1" height="12" fill="#26a69a"/>
<rect x="928" y="495" width="3" height="8" fill="#26a69a"/>
<rect x="933" y="487" width="1" height="19" fill="#26a69a"/>
<rect x="932" y="490" width="3" height="5" fill="#26a69a"/>
<rect x="937" y="482" width="1" height="22" fill="#ef5350"/>
<rect x="936" y="490" width="3" height="13" fill="#ef5350"/>
<rect x="941" y="500" width="1" height="33" fill="#ef5350"/>
<rect x="940" y="501" width="3" height="21" fill="#ef5350"/>
<rect x="945" y="520" width="1" height="13" fill="#ef5350"/>
<rect x="944" y="522" width="3" height="11" fill="#ef5350"/>
<rect x="948" y="530" width="1" height="9" fill="#ef5350"/>
<rect x="947" y="531" width="3" height="2" fill="#ef5350"/>
<rect x="952" y="528" width="1" height="8" fill="#26a69a"/>
<rect x="951" y="530" width="3" height="3" fill="#26a69a"/>
<rect x="956" y="506" width="1" height="30" fill="#26a69a"/>
<rect x="955" y="508" width="3" height="22" fill="#26a69a"/>
<rect x="960" y="484" width="1" height="30" fill="#26a69a"/>
<rect x="959" y="486" width="3" height="22" fill="#26a69a"/>
<rect x="964" y="466" width="1" height="21" fill="#26a69a"/>
<rect x="963" y="471" width="3" height="16" fill="#26a69a"/>
<rect x="967" y="468" width="1" height="11" fill="#ef5350"/>
<rect x="966" y="471" width="3" height="7" fill="#ef5350"/>
<rect x="971" y="480" width="1" height="7" fill="#ef5350"/>
<rect x="970" y="482" width="3" height="3" fill="#ef5350"/>
<rect x="975" y="478" width="1" height="18" fill="#ef5350"/>
<rect x="974" y="485" width="3" height="11" fill="#ef5350"/>
<rect x="979" y="488" width="1" height="24" fill="#ef5350"/>
<rect x="978" y="495" width="3" height="11" fill="#ef5350"/>
<rect x="983" y="505" width="1" height="27" fill="#ef5350"/>
<rect x="982" y="506" width="3" height="19" fill="#ef5350"/>
<rect x="987" y="519" width="1" height="32" fill="#ef5350"/>
<rect x="986" y="525" width="3" height="21" fill="#ef5350"/>
<rect x="990" y="532" width="1" height="20" fill="#26a69a"/>
<rect x="989" y="546" width="3" height="1" fill="#26a69a"/>
<rect x="994" y="526" width="1" height="21" fill="#ef5350"/>
<rect x="993" y="537" width="3" height="7" fill="#ef5350"/>
<rect x="998" y="530" width="1" height="18" fill="#26a69a"/>
<rect x="997" y="530" width="3" height="14" fill="#26a69a"/>
<rect x="1002" y="464" width="1" height="71" fill="#26a69a"/>
<rect x="1001" y="485" width="3" height="48" fill="#26a69a"/>
<rect x="1006" y="468" width="1" height="19" fill="#26a69a"/>
<rect x="1005" y="475" width="3" height="11" fill="#26a69a"/>
<rect x="1009" y="456" width="1" height="25" fill="#26a69a"/>
<rect x="1008" y="468" width="3" height="8" fill="#26a69a"/>
<rect x="1013" y="467" width="1" height="6" fill="#ef5350"/>
<rect x="1012" y="470" width="3" height="1" fill="#ef5350"/>
<rect x="1017" y="480" width="1" height="42" fill="#26a69a"/>
<rect x="1016" y="487" width="3" height="14" fill="#26a69a"/>
<rect x="1021" y="479" width="1" height="13" fill="#ef5350"/>
<rect x="1020" y="487" width="3" height="3" fill="#ef5350"/>
<rect x="1025" y="395" width="1" height="100" fill="#26a69a"/>
<rect x="1024" y="407" width="3" height="84" fill="#26a69a"/>
<rect x="1028" y="406" width="1" height="28" fill="#ef5350"/>
<rect x="1027" y="407" width="3" height="25" fill="#ef5350"/>
<rect x="1032" y="417" width="1" height="35" fill="#ef5350"/>
<rect x="1031" y="432" width="3" height="5" fill="#ef5350"/>
<rect x="1036" y="431" width="1" height="20" fill="#26a69a"/>
<rect x="1035" y="432" width="3" height="5" fill="#26a69a"/>
<rect x="1040" y="422" width="1" height="15" fill="#26a69a"/>
<rect x="1039" y="428" width="3" height="9" fill="#26a69a"/>
<rect x="1044" y="419" width="1" height="11" fill="#26a69a"/>
<rect x="1043" y="423" width="3" height="6" fill="#26a69a"/>
<rect x="1047" y="370" width="1" height="55" fill="#26a69a"/>
<rect x="1046" y="372" width="3" height="51" fill="#26a69a"/>
<rect x="1051" y="335" width="1" height="39" fill="#26a69a"/>
<rect x="1050" y="343" width="3" height="30" fill="#26a69a"/>
<rect x="1055" y="328" width="1" height="39" fill="#26a69a"/>
<rect x="1054" y="335" width="3" height="10" fill="#26a69a"/>
<rect x="1059" y="328" width="1" height="24" fill="#ef5350"/>
<rect x="1058" y="335" width="3" height="4" fill="#ef5350"/>
<rect x="1063" y="334" width="1" height="23" fill="#ef5350"/>
<rect x="1062" y="335" width="3" height="21" fill="#ef5350"/>
<rect x="1067" y="343" width="1" height="14" fill="#26a69a"/>
<rect x="1066" y="354" width="3" height="2" fill="#26a69a"/>
<rect x="1070" y="344" width="1" height="20" fill="#26a69a"/>
<rect x="1069" y="346" width="3" height="8" fill="#26a69a"/>
<rect x="1074" y="338" width="1" height="29" fill="#ef5350"/>
<rect x="1073" y="347" width="3" height="8" fill="#ef5350"/>
<rect x="1078" y="335" width="1" height="25" fill="#26a69a"/>
<rect x="1077" y="346" width="3" height="8" fill="#26a69a"/>
<rect x="1082" y="338" width="1" height="13" fill="#ef5350"/>
<rect x="1081" y="345" width="3" height="5" fill="#ef5350"/>
<rect x="1086" y="330" width="1" height="21" fill="#26a69a"/>
<rect x="1085" y="332" width="3" height="18" fill="#26a69a"/>
<rect x="1089" y="324" width="1" height="11" fill="#26a69a"/>
<rect x="1088" y="332" width="3" height="1" fill="#26a69a"/>
<rect x="1093" y="326" width="1" height="38" fill="#ef5350"/>
<rect x="1092" y="332" width="3" height="22" fill="#ef5350"/>
<rect x="1097" y="312" width="1" height="43" fill="#26a69a"/>
<rect x="1096" y="338" width="3" height="16" fill="#26a69a"/>
<rect x="1101" y="282" width="1" height="57" fill="#26a69a"/>
<rect x="1100" y="283" width="3" height="55" fill="#26a69a"/>
<rect x="1105" y="270" width="1" height="16" fill="#26a69a"/>
<rect x="1104" y="274" width="3" height="11" fill="#26a69a"/>
<rect x="1108" y="266" width="1" height="13" fill="#26a69a"/>
<rect x="1107" y="268" width="3" height="3" fill="#26a69a"/>
<rect x="1112" y="256" width="1" height="14" fill="#26a69a"/>
<rect x="1111" y="264" width="3" height="4" fill="#26a69a"/>
<rect x="1116" y="263" width="1" height="23" fill="#ef5350"/>
<rect x="1115" y="264" width="3" height="10" fill="#ef5350"/>
<rect x="1120" y="238" width="1" height="39" fill="#26a69a"/>
<rect x="1119" y="239" width="3" height="35" fill="#26a69a"/>
<rect x="1124" y="223" width="1" height="28" fill="#ef5350"/>
<rect x="1123" y="239" width="3" height="6" fill="#ef5350"/>
<rect x="1128" y="242" width="1" height="19" fill="#ef5350"/>
<rect x="1127" y="244" width="3" height="16" fill="#ef5350"/>
<rect x="1131" y="261" width="1" height="17" fill="#ef5350"/>
<rect x="1130" y="262" width="3" height="10" fill="#ef5350"/>
<rect x="1135" y="261" width="1" height="14" fill="#26a69a"/>
<rect x="1134" y="265" width="3" height="7" fill="#26a69a"/>
<rect x="1139" y="249" width="1" height="18" fill="#26a69a"/>
<rect x="1138" y="260" width="3" height="5" fill="#26a69a"/>
<rect x="1143" y="245" width="1" height="22" fill="#26a69a"/>
<rect x="1142" y="252" width="3" height="9" fill="#26a69a"/>
<rect x="1147" y="233" width="1" height="24" fill="#26a69a"/>
<rect x="1146" y="236" width="3" height="20" fill="#26a69a"/>
<rect x="1150" y="226" width="1" height="12" fill="#26a69a"/>
<rect x="1149" y="226" width="3" height="12" fill="#26a69a"/>
<rect x="1154" y="219" width="1" height="10" fill="#ef5350"/>
<rect x="1153" y="222" width="3" height="5" fill="#ef5350"/>
<rect x="1158" y="221" width="1" height="11" fill="#ef5350"/>
<rect x="1157" y="227" width="3" height="4" fill="#ef5350"/>
<rect x="1162" y="206" width="1" height="33" fill="#26a69a"/>
<rect x="1161" y="206" width="3" height="25" fill="#26a69a"/>
<rect x="1166" y="194" width="1" height="18" fill="#26a69a"/>
<rect x="1165" y="198" width="3" height="10" fill="#26a69a"/>
<rect x="1169" y="189" width="1" height="24" fill="#26a69a"/>
<rect x="1168" y="194" width="3" height="5" fill="#26a69a"/>
<rect x="1173" y="179" width="1" height="19" fill="#26a69a"/>
<rect x="1172" y="180" width="3" height="15" fill="#26a69a"/>
<rect x="1177" y="183" width="1" height="5" fill="#ef5350"/>
<rect x="1176" y="184" width="3" height="2" fill="#ef5350"/>
<rect x="1181" y="185" width="1" height="8" fill="#ef5350"/>
<rect x="1180" y="186" width="3" height="6" fill="#ef5350"/>
<rect x="1185" y="171" width="1" height="28" fill="#26a69a"/>
<rect x="1184" y="177" width="3" height="15" fill="#26a69a"/>
<rect x="1188" y="154" width="1" height="49" fill="#ef5350"/>
<rect x="1187" y="177" width="3" height="9" fill="#ef5350"/>
<rect x="1192" y="155" width="1" height="33" fill="#26a69a"/>
<rect x="1191" y="156" width="3" height="31" fill="#26a69a"/>
<rect x="1196" y="156" width="1" height="12" fill="#ef5350"/>
<rect x="1195" y="156" width="3" height="8" fill="#ef5350"/>
<rect x="1200" y="155" width="1" height="21" fill="#ef5350"/>
<rect x="1199" y="156" width="3" height="19" fill="#ef5350"/>
<rect x="1204" y="165" width="1" height="11" fill="#26a69a"/>
<rect x="1203" y="168" width="3" height="7" fill="#26a69a"/>
<rect x="1208" y="139" width="1" height="31" fill="#26a69a"/>
<rect x="1207" y="151" width="3" height="17" fill="#26a69a"/>
<rect x="1211" y="144" width="1" height="31" fill="#26a69a"/>
<rect x="1210" y="147" width="3" height="4" fill="#26a69a"/>
<rect x="1215" y="134" width="1" height="18" fill="#26a69a"/>
<rect x="1214" y="135" width="3" height="13" fill="#26a69a"/>
<rect x="1219" y="126" width="1" height="14" fill="#26a69a"/>
<rect x="1218" y="127" width="3" height="8" fill="#26a69a"/>
<rect x="1223" y="112" width="1" height="22" fill="#26a69a"/>
<rect x="1222" y="118" width="3" height="12" fill="#26a69a"/>
<rect x="1227" y="114" width="1" height="22" fill="#ef5350"/>
<rect x="1226" y="118" width="3" height="15" fill="#ef5350"/>
<rect x="1230" y="132" width="1" height="23" fill="#ef5350"/>
<rect x="1229" y="133" width="3" height="12" fill="#ef5350"/>
<rect x="1234" y="135" width="1" height="12" fill="#26a69a"/>
<rect x="1233" y="141" width="3" height="4" fill="#26a69a"/>
<rect x="1238" y="135" width="1" height="11" fill="#ef5350"/>
<rect x="1237" y="141" width="3" height="4" fill="#ef5350"/>
<rect x="1242" y="141" width="1" height="7" fill="#ef5350"/>
<rect x="1241" y="145" width="3" height="2" fill="#ef5350"/>
<rect x="1246" y="137" width="1" height="12" fill="#ef5350"/>
<rect x="1245" y="138" width="3" height="10" fill="#ef5350"/>
<rect x="1249" y="145" width="1" height="9" fill="#ef5350"/>
<rect x="1248" y="148" width="3" height="4" fill="#ef5350"/>
<rect x="1253" y="134" width="1" height="23" fill="#ef5350"/>
<rect x="1252" y="152" width="3" height="2" fill="#ef5350"/>
<rect x="1257" y="129" width="1" height="27" fill="#26a69a"/>
<rect x="1256" y="130" width="3" height="25" fill="#26a69a"/>
<rect x="1261" y="100" width="1" height="36" fill="#26a69a"/>
<rect x="1260" y="117" width="3" height="13" fill="#26a69a"/>
<rect x="1265" y="114" width="1" height="9" fill="#ef5350"/>
<rect x="1264" y="117" width="3" height="2" fill="#ef5350"/>
<rect x="1269" y="98" width="1" height="35" fill="#26a69a"/>
<rect x="1268" y="110" width="3" height="18" fill="#26a69a"/>
<rect x="1272" y="107" width="1" height="13" fill="#ef5350"/>
<rect x="1271" y="110" width="3" height="6" fill="#ef5350"/>
<rect x="1276" y="107" width="1" height="22" fill="#ef5350"/>
<rect x="1275" y="114" width="3" height="2" fill="#ef5350"/>
<rect x="1280" y="96" width="1" height="22" fill="#26a69a"/>
<rect x="1279" y="105" width="3" height="12" fill="#26a69a"/>
<rect x="1284" y="102" width="1" height="38" fill="#ef5350"/>
<rect x="1283" y="105" width="3" height="28" fill="#ef5350"/>
<rect x="1288" y="131" width="1" height="17" fill="#ef5350"/>
<rect x="1287" y="132" width="3" height="15" fill="#ef5350"/>
<rect x="1291" y="145" width="1" height="9" fill="#26a69a"/>
<rect x="1290" y="147" width="3" height="1" fill="#26a69a"/>
<rect x="1295" y="142" width="1" height="9" fill="#ef5350"/>
<rect x="1294" y="147" width="3" height="3" fill="#ef5350"/>
<rect x="1299" y="136" width="1" height="23" fill="#ef5350"/>
<rect x="1298" y="148" width="3" height="8" fill="#ef5350"/>
<polyline points="91.5,690.0 95.3,683.0 99.1,677.0 103.0,671.9 106.8,667.4 110.4,660.0 114.4,655.0 118.4,650.1 121.4,645.8 125.5,642.0 129.5,638.6 133.4,635.3 137.4,630.9 141.4,628.4 144.4,624.8 148.4,620.8 152.4,619.4 156.3,617.5 160.3,616.4 163.5,616.2 167.4,619.0 171.4,619.3 175.4,619.4 179.3,616.8 182.4,600.1 186.4,582.9 190.3,565.6 194.0,550.1 198.3,533.4 202.4,520.4 205.5,509.8 209.4,497.5 213.4,487.2 217.4,478.8 221.0,471.9 224.7,467.1 228.6,459.6 232.7,453.4 236.6,452.7 240.4,448.6 243.8,444.4 247.4,441.2 251.4,435.7 255.3,437.8 259.4,437.1 263.2,437.6 266.8,434.0 270.5,431.2 274.2,432.5 278.7,433.0 282.2,432.8 285.5,433.2 289.2,430.5 293.6,433.4 297.5,437.3 301.2,435.1 304.0,432.8 308.4,429.9 312.4,428.7 316.5,421.1 320.5,416.9 323.8,414.0 327.5,409.4 331.4,409.1 335.8,408.3 339.0,408.8 342.8,406.6 346.3,404.3 350.5,402.5 354.8,401.2 358.3,400.8 362.5,400.0 365.3,398.3 369.3,394.3 373.4,389.5 377.4,386.0 381.1,383.1 384.4,382.3 388.3,380.1 392.3,378.5 396.4,376.6 400.4,374.0 403.6,372.3 407.6,366.5 411.3,364.4 415.2,361.6 419.6,359.2 423.3,358.2 426.2,357.0 430.3,354.4 434.3,354.3 438.2,353.1 442.1,352.0 445.4,354.9 449.6,356.8 453.5,359.6 457.2,361.7 461.2,364.5 464.9,367.3 468.2,369.4 472.1,368.4 476.8,369.0 480.5,369.0 483.8,367.6 487.5,367.0 491.4,365.8 495.4,365.1 499.0,363.5 503.0,360.9 506.7,355.9 510.4,347.3 514.4,340.4 518.3,334.7 522.5,334.0 525.8,331.7 529.3,330.7 533.0,330.2 537.8,331.1 541.3,332.4 544.6,331.0 548.3,331.3 552.0,331.0 556.4,330.6 560.3,330.5 564.3,330.2 567.6,332.2 571.3,335.3 575.2,339.6 579.4,342.5 583.3,344.6 586.6,347.7 590.3,350.4 594.3,353.9 598.6,358.9 602.6,361.5 605.9,362.6 609.6,365.0 613.3,368.8 617.2,371.7 621.2,373.7 625.0,375.3 628.6,379.2 632.6,381.1 636.5,384.5 640.2,386.1 644.1,385.6 647.9,386.1 651.6,384.9 655.5,383.3 659.5,383.1 663.2,382.3 666.9,381.7 670.6,383.5 674.3,385.7 678.4,386.9 682.2,385.8 685.6,387.0 689.4,387.0 693.3,384.6 697.2,383.2 701.5,382.3 705.4,378.4 708.5,363.6 712.4,359.4 716.3,355.6 720.2,351.8 724.4,347.8 727.3,348.2 731.6,346.3 735.5,344.3 739.4,346.8 743.5,347.7 746.8,348.9 750.3,355.0 754.5,373.1 758.4,388.7 762.5,402.6 765.5,412.1 769.3,420.6 773.2,437.4 777.5,448.0 781.6,459.4 785.4,466.7 788.5,472.7 792.3,478.1 796.6,481.8 800.5,485.8 804.6,491.7 807.6,497.0 811.4,500.0 815.5,509.1 819.6,511.1 823.4,513.3 826.8,513.0 830.6,514.1 834.4,512.2 838.2,510.7 842.1,508.0 845.9,503.8 849.7,496.3 853.6,490.2 857.4,483.4 861.2,476.9 865.5,473.9 868.9,476.9 872.7,483.7 876.5,485.4 880.3,485.9 884.2,486.8 887.5,488.5 891.8,493.9 895.7,497.0 899.4,497.6 903.3,494.3 906.7,491.3 910.3,488.8 914.4,490.0 918.3,491.2 922.3,492.4 926.4,494.0 929.6,494.1 933.4,493.5 937.3,494.9 941.4,498.8 945.3,503.6 948.5,507.8 952.3,511.0 956.3,510.5 960.3,507.0 964.4,501.8 967.3,498.4 971.1,496.5 975.2,496.5 979.3,497.9 983.2,501.7 987.2,508.1 990.5,513.5 994.5,517.9 998.6,519.7 1002.5,514.7 1006.3,509.1 1009.5,503.3 1013.4,498.6 1017.5,496.9 1021.6,496.0 1025.2,483.2 1028.4,476.0 1032.5,470.5 1036.4,465.0 1040.5,459.7 1044.1,454.4 1047.3,442.6 1051.4,428.3 1055.6,415.0 1059.2,404.2 1063.6,397.3 1067.2,391.0 1070.9,384.6 1074.5,380.3 1078.6,375.5 1082.5,371.8 1086.7,366.1 1089.8,361.1 1093.5,360.1 1097.6,356.9 1101.5,346.3 1105.5,336.0 1108.6,326.2 1112.4,317.3 1116.4,311.1 1120.6,300.9 1124.6,292.9 1128.6,288.2 1131.6,285.9 1135.6,282.9 1139.6,279.7 1143.4,275.8 1147.4,270.0 1150.5,263.7 1154.3,258.4 1158.4,254.5 1162.4,247.7 1166.6,240.6 1169.7,233.9 1173.5,226.2 1177.5,220.5 1181.5,216.5 1185.4,210.9 1188.5,207.4 1192.6,200.0 1196.3,194.8 1200.2,192.0 1204.5,188.5 1208.3,183.1 1211.4,178.0 1215.2,171.8 1219.3,165.4 1223.4,158.7 1227.5,155.0 1230.3,153.5 1234.4,151.8 1238.4,150.8 1242.3,150.3 1246.4,150.0 1249.3,150.3 1253.5,150.9 1257.3,147.9 1261.2,143.5 1265.5,140.1 1269.4,135.8 1272.6,132.9 1276.5,130.5 1280.5,126.9 1284.4,127.7 1288.5,130.5 1291.4,132.9 1295.4,135.3 1299.4,138.2" fill="none" stroke="#e91e63" stroke-width="1.1"/>
<polyline points="91.5,693.6 95.3,688.9 99.1,684.5 103.0,680.5 106.8,677.0 110.4,671.3 114.4,667.1 118.4,662.9 121.4,659.0 125.5,655.4 129.5,652.0 133.4,648.7 137.4,644.6 141.4,641.8 144.4,638.3 148.4,634.6 152.4,632.4 156.3,630.0 160.3,628.2 163.5,627.0 167.4,627.8 171.4,627.2 175.4,626.5 179.3,624.2 182.4,612.9 186.4,600.8 190.3,588.2 194.0,576.2 198.3,563.2 202.4,552.3 205.5,542.6 209.4,531.8 213.4,522.1 217.4,513.6 221.0,506.0 224.7,499.9 228.6,492.1 232.7,485.3 236.6,481.9 240.4,476.6 243.8,471.4 247.4,466.9 251.4,461.1 255.3,460.1 259.4,457.6 263.2,456.1 266.8,452.1 270.5,448.7 274.2,447.9 278.7,446.8 282.2,445.5 285.5,444.6 289.2,441.8 293.6,442.6 297.5,444.3 301.2,442.2 304.0,440.1 308.4,437.6 312.4,436.1 316.5,430.6 320.5,427.1 323.8,424.3 327.5,420.5 331.4,419.2 335.8,417.9 339.0,417.3 342.8,415.1 346.3,412.9 350.5,411.0 354.8,409.3 358.3,408.4 362.5,407.1 365.3,405.5 369.3,402.2 373.4,398.5 377.4,395.4 381.1,392.7 384.4,391.3 388.3,389.1 392.3,387.3 396.4,385.3 400.4,382.8 403.6,381.0 407.6,376.5 411.3,374.2 415.2,371.5 419.6,369.1 423.3,367.6 426.2,365.9 430.3,363.5 434.3,362.6 438.2,361.1 442.1,359.7 445.4,360.8 449.6,361.5 453.5,362.8 457.2,363.9 461.2,365.4 464.9,367.1 468.2,368.5 472.1,367.9 476.8,368.4 480.5,368.4 483.8,367.6 487.5,367.2 491.4,366.4 495.4,365.9 499.0,364.8 503.0,363.1 506.7,359.7 510.4,353.9 514.4,348.8 518.3,344.5 522.5,343.2 525.8,340.9 529.3,339.4 533.0,338.3 537.8,338.1 541.3,338.3 544.6,336.9 548.3,336.6 552.0,335.9 556.4,335.2 560.3,334.7 564.3,334.1 567.6,335.0 571.3,336.8 575.2,339.3 579.4,341.2 583.3,342.7 586.6,344.8 590.3,346.8 594.3,349.3 598.6,352.9 602.6,355.1 605.9,356.4 609.6,358.5 613.3,361.5 617.2,364.0 621.2,366.0 625.0,367.7 628.6,370.9 632.6,372.9 636.5,375.7 640.2,377.6 644.1,378.0 647.9,379.1 651.6,378.9 655.5,378.4 659.5,378.7 663.2,378.7 666.9,378.6 670.6,380.0 674.3,381.7 678.4,382.8 682.2,382.6 685.6,383.6 689.4,383.9 693.3,382.7 697.2,381.9 701.5,381.5 705.4,379.1 708.5,369.6 712.4,366.4 716.3,363.3 720.2,360.2 724.4,356.9 727.3,356.3 731.6,354.4 735.5,352.3 739.4,353.2 743.5,353.2 746.8,353.5 750.3,356.9 754.5,368.3 758.4,378.6 762.5,388.4 765.5,395.7 769.3,402.7 773.2,415.0 777.5,423.8 781.6,433.2 785.4,440.2 788.5,446.5 792.3,452.3 796.6,457.0 800.5,461.8 804.6,467.7 807.6,473.3 811.4,477.3 815.5,485.2 819.6,488.6 823.4,492.1 826.8,493.8 830.6,496.2 834.4,496.7 838.2,497.1 842.1,496.7 845.9,495.0 849.7,491.0 853.6,487.7 857.4,483.6 861.2,479.4 865.5,477.3 868.9,478.9 872.7,483.0 876.5,484.2 880.3,484.6 884.2,485.3 887.5,486.5 891.8,490.1 895.7,492.4 899.4,493.2 903.3,491.6 906.7,489.8 910.3,488.4 914.4,489.2 918.3,490.0 922.3,490.9 926.4,492.1 929.6,492.3 933.4,492.1 937.3,493.1 941.4,495.7 945.3,499.1 948.5,502.1 952.3,504.7 956.3,505.0 960.3,503.3 964.4,500.3 967.3,498.3 971.1,497.1 975.2,497.0 979.3,497.8 983.2,500.3 987.2,504.5 990.5,508.2 994.5,511.5 998.6,513.2 1002.5,510.7 1006.3,507.4 1009.5,503.9 1013.4,500.9 1017.5,499.6 1021.6,498.7 1025.2,490.4 1028.4,485.1 1032.5,480.8 1036.4,476.4 1040.5,472.0 1044.1,467.5 1047.3,458.8 1051.4,448.2 1055.6,437.9 1059.2,428.9 1063.6,422.3 1067.2,416.1 1070.9,409.7 1074.5,404.7 1078.6,399.4 1082.5,394.9 1086.7,389.1 1089.8,383.9 1093.5,381.1 1097.6,377.2 1101.5,368.6 1105.5,360.0 1108.6,351.6 1112.4,343.7 1116.4,337.3 1120.6,328.4 1124.6,320.8 1128.6,315.3 1131.6,311.4 1135.6,307.2 1139.6,302.9 1143.4,298.3 1147.4,292.6 1150.5,286.5 1154.3,281.1 1158.4,276.5 1162.4,270.2 1166.6,263.6 1169.7,257.3 1173.5,250.3 1177.5,244.5 1181.5,239.7 1185.4,234.0 1188.5,229.7 1192.6,223.0 1196.3,217.6 1200.2,213.7 1204.5,209.6 1208.3,204.2 1211.4,199.0 1215.2,193.2 1219.3,187.2 1223.4,180.9 1227.5,176.5 1230.3,173.6 1234.4,170.7 1238.4,168.4 1242.3,166.4 1246.4,164.8 1249.3,163.7 1253.5,162.8 1257.3,159.8 1261.2,155.9 1265.5,152.6 1269.4,148.8 1272.6,145.8 1276.5,143.1 1280.5,139.6 1284.4,139.0 1288.5,139.7 1291.4,140.4 1295.4,141.3 1299.4,142.6" fill="none" stroke="#9c27b0" stroke-width="1.1"/>
<line x1="0" y1="612.2" x2="502.7" y2="147.1" stroke="#2196f3" stroke-width="1.4" stroke-dasharray="5.5 5.5"/>
<line x1="247.9" y1="624.9" x2="574.7" y2="322.2" stroke="#2196f3" stroke-width="1.4" stroke-dasharray="5.5 5.5"/>
<line x1="1096.8" y1="274.8" x2="1241.4" y2="78.7" stroke="#2196f3" stroke-width="1.4" stroke-dasharray="5.5 5.5"/>
<line x1="1104.6" y1="318.6" x2="1249.5" y2="122.2" stroke="#2196f3" stroke-width="1.4" stroke-dasharray="5.5 5.5"/>
<line x1="1222.9" y1="108.8" x2="1279.7" y2="91.8" stroke="#ff9800" stroke-width="2.5"/>
<line x1="0" y1="156.5" x2="1764" y2="156.5" stroke="#4caf50" stroke-width="1"/>
<line x1="0" y1="155.5" x2="1764" y2="155.5" stroke="#ef5350" stroke-width="1" stroke-dasharray="1.5 1.5"/>
</g>
<rect x="4" y="80" width="148" height="44" fill="rgba(255,255,255,0.55)"/>
<text x="7.6" y="23" font-size="16.2" fill="#131722" textLength="78" lengthAdjust="spacingAndGlyphs">Euro50 <tspan fill="#b2b5be">·</tspan> 4h</text>
<circle cx="109.8" cy="17" r="9" fill="rgba(8,153,129,0.15)"/><circle cx="109.8" cy="17" r="4.4" fill="#089981"/>
<text x="135.2" y="23" font-size="13" fill="#f23645" textLength="328" lengthAdjust="spacingAndGlyphs"><tspan fill="#5d606b">O</tspan>4148.49 <tspan fill="#5d606b">H</tspan>4159.72 <tspan fill="#5d606b">L</tspan>4138.49 <tspan fill="#5d606b">C</tspan>4141.53 −5.55 (−0.13%)</text>
<rect x="7.5" y="33.5" width="61" height="37" rx="4" fill="#fff" stroke="#f23645" stroke-width="1"/>
<rect x="107.5" y="33.5" width="61" height="37" rx="4" fill="#fff" stroke="#089981" stroke-width="1"/>
<rect x="73" y="49" width="30" height="22" rx="4" fill="#f3f5fa"/>
<text x="14.9" y="56.6" font-size="13" font-weight="400" fill="#f23645" text-anchor="start" textLength="45" lengthAdjust="spacingAndGlyphs">4141.53</text>
<text x="115" y="57" font-size="13" font-weight="400" fill="#089981" text-anchor="start" textLength="45.3" lengthAdjust="spacingAndGlyphs">4142.84</text>
<text x="78" y="44" font-size="11" font-weight="400" fill="#5d606b" text-anchor="start" textLength="19.3" lengthAdjust="spacingAndGlyphs">1.31</text>
<text x="81.2" y="63.7" font-size="12" font-weight="400" fill="#131722" text-anchor="start" textLength="13.5" lengthAdjust="spacingAndGlyphs">5K</text>
<text x="7.6" y="92" font-size="13" fill="#131722" textLength="84.7" lengthAdjust="spacingAndGlyphs">EMA 13 <tspan fill="#4c505b">close 0</tspan></text>
<text x="102" y="92" font-size="13" font-weight="400" fill="#e91e63" text-anchor="start" textLength="44.7" lengthAdjust="spacingAndGlyphs">4157.62</text>
<text x="7.6" y="116" font-size="13" fill="#131722" textLength="84.7" lengthAdjust="spacingAndGlyphs">EMA 21 <tspan fill="#4c505b">close 0</tspan></text>
<text x="102" y="116" font-size="13" font-weight="400" fill="#9c27b0" text-anchor="start" textLength="44.7" lengthAdjust="spacingAndGlyphs">4153.55</text>
<rect x="8.5" y="125.5" width="27" height="20" rx="3" fill="#fff" stroke="#d1d4dc" stroke-width="1"/>
<path d="M18.5 137.5 L22.2 133.8 L25.9 137.5" fill="none" stroke="#131722" stroke-width="1.6"/>
<text x="1390.4" y="61.9" font-size="12" font-weight="400" fill="#f44336" text-anchor="start" textLength="79.8" lengthAdjust="spacingAndGlyphs">0.618(4225.50)</text>
<text x="1390.3" y="212.1" font-size="12" font-weight="400" fill="#4caf50" text-anchor="start" textLength="79.8" lengthAdjust="spacingAndGlyphs">0.236(4086.25)</text>
<text x="1390.3" y="276" font-size="12" font-weight="400" fill="#4caf50" text-anchor="start" textLength="79.8" lengthAdjust="spacingAndGlyphs">0.382(4026.35)</text>
<text x="1391.4" y="327.5" font-size="12" font-weight="400" fill="#4caf50" text-anchor="start" textLength="67.3" lengthAdjust="spacingAndGlyphs">0.5(3977.93)</text>
<text x="1236.6" y="85.4" font-size="19" font-weight="400" fill="#ff9800" text-anchor="start" textLength="171" lengthAdjust="spacingAndGlyphs" stroke="#ff9800" stroke-width="0.35">Bearish Divergence</text>
<g clip-path="url(#cr)">
<line x1="11.5" y1="626" x2="11.5" y2="784" stroke="#f0f1f2" stroke-width="1"/>
<line x1="125.5" y1="626" x2="125.5" y2="784" stroke="#f0f1f2" stroke-width="1"/>
<line x1="240.5" y1="626" x2="240.5" y2="784" stroke="#f0f1f2" stroke-width="1"/>
<line x1="354.5" y1="626" x2="354.5" y2="784" stroke="#f0f1f2" stroke-width="1"/>
<line x1="514.5" y1="626" x2="514.5" y2="784" stroke="#f0f1f2" stroke-width="1"/>
<line x1="628.5" y1="626" x2="628.5" y2="784" stroke="#f0f1f2" stroke-width="1"/>
<line x1="743.5" y1="626" x2="743.5" y2="784" stroke="#f0f1f2" stroke-width="1"/>
<line x1="857.5" y1="626" x2="857.5" y2="784" stroke="#f0f1f2" stroke-width="1"/>
<line x1="994.5" y1="626" x2="994.5" y2="784" stroke="#f0f1f2" stroke-width="1"/>
<line x1="1108.5" y1="626" x2="1108.5" y2="784" stroke="#f0f1f2" stroke-width="1"/>
<line x1="1223.5" y1="626" x2="1223.5" y2="784" stroke="#f0f1f2" stroke-width="1"/>
<line x1="1341.5" y1="626" x2="1341.5" y2="784" stroke="#f0f1f2" stroke-width="1"/>
<line x1="1501.5" y1="626" x2="1501.5" y2="784" stroke="#f0f1f2" stroke-width="1"/>
<line x1="1615.5" y1="626" x2="1615.5" y2="784" stroke="#f0f1f2" stroke-width="1"/>
<line x1="1730.5" y1="626" x2="1730.5" y2="784" stroke="#f0f1f2" stroke-width="1"/>
<line x1="0" y1="652.5" x2="1764" y2="652.5" stroke="#f0f1f2" stroke-width="1"/>
<line x1="0" y1="695.5" x2="1764" y2="695.5" stroke="#f0f1f2" stroke-width="1"/>
<line x1="0" y1="738.5" x2="1764" y2="738.5" stroke="#f0f1f2" stroke-width="1"/>
<line x1="0" y1="781.5" x2="1764" y2="781.5" stroke="#f0f1f2" stroke-width="1"/>
<rect x="0" y="673.5" width="1764" height="86.5" fill="rgba(126,87,194,0.1)"/>
<line x1="0" y1="673.5" x2="1764" y2="673.5" stroke="#787b86" stroke-width="1" stroke-dasharray="5 6"/>
<line x1="0" y1="760.5" x2="1764" y2="760.5" stroke="#787b86" stroke-width="1" stroke-dasharray="5 6"/>
<polyline points="0.0,694.3 7.4,697.9 11.7,686.2 15.9,682.6 19.6,672.0 22.8,695.4 26.6,689.4 30.8,692.0 35.1,687.3 38.7,689.8 44.7,712.8 50.0,723.4 53.6,737.9 57.8,734.1 63.8,736.2 69.1,730.9 72.9,729.2 77.0,732.0 80.4,729.2 85.0,704.3 91.4,673.5 96.1,683.0 99.3,679.9 102.7,689.4 106.3,687.3 110.1,678.4 114.4,687.3 120.1,684.1 127.6,683.0 133.5,682.0 137.6,677.7 141.4,683.5 144.6,679.9 148.2,677.3 152.0,689.0 156.3,687.3 159.9,690.5 163.7,699.0 168.0,707.5 171.2,707.1 175.4,703.9 178.6,689.4 182.4,654.3 186.1,650.1 190.3,646.9 193.9,646.5 198.8,642.6 202.4,649.0 205.2,652.2 210.1,648.0 213.3,648.6 217.9,653.3 221.1,653.9 224.3,661.1 228.6,655.0 232.2,655.8 236.0,683.7 241.3,674.5 247.1,674.1 251.5,668.6 255.2,701.1 259.0,695.4 262.6,699.0 266.4,687.9 270.5,689.0 274.9,704.3 280.7,703.9 284.9,702.8 289.2,694.7 293.4,713.9 297.3,719.2 301.7,700.5 304.7,699.6 308.5,697.3 312.3,701.1 316.4,683.0 320.2,692.0 323.4,695.2 327.2,689.8 331.5,704.3 335.1,703.9 339.3,706.0 342.5,698.4 350.6,697.9 354.9,698.6 358.9,702.2 362.1,701.1 364.9,696.9 369.1,686.2 373.4,680.9 377.6,683.5 381.2,684.7 384.4,697.3 388.7,690.5 392.9,691.5 396.7,690.5 400.4,685.8 403.6,689.0 407.4,671.3 411.6,692.2 415.9,688.8 419.5,689.0 423.8,695.8 426.9,694.1 430.3,687.7 434.4,702.8 438.6,697.3 442.0,697.5 445.7,720.7 449.5,718.6 453.5,724.9 457.3,723.4 464.8,732.0 468.6,729.8 472.2,709.6 476.1,718.6 480.3,714.9 483.5,707.9 487.1,709.0 492.0,706.4 495.6,707.5 499.9,701.1 503.5,694.7 510.5,662.8 517.9,668.2 522.2,701.1 525.4,694.7 529.2,700.0 533.5,701.8 537.7,710.7 541.3,713.2 544.5,701.1 548.8,710.3 552.6,709.2 556.9,706.0 560.5,707.9 564.1,706.9 567.5,723.0 575.4,739.8 583.4,731.5 587.0,738.3 590.2,738.7 594.5,745.8 598.3,756.0 600.0,750.5 605.3,733.4 609.6,740.5 613.8,748.3 617.0,748.3 624.0,741.5 628.3,754.3 632.3,743.2 636.6,750.0 640.4,740.5 644.2,726.0 647.8,728.8 651.7,719.2 655.3,715.0 660.0,722.4 666.3,720.3 670.2,735.1 674.4,739.4 678.2,733.6 682.5,716.6 685.7,730.2 689.3,723.9 693.1,707.5 697.8,711.7 701.4,712.8 704.6,696.9 708.4,660.7 712.3,700.0 716.3,700.0 724.4,696.4 727.6,711.7 731.8,705.0 735.4,703.2 739.7,719.6 743.5,716.0 746.1,717.5 750.5,733.0 754.6,761.7 762.2,762.8 765.9,754.3 769.5,754.7 773.3,770.2 777.5,757.0 781.8,760.2 786.1,751.1 792.0,751.1 796.7,746.8 800.9,749.4 804.8,755.3 808.0,755.8 811.6,748.3 815.4,761.7 819.7,739.0 822.8,739.4 826.5,732.6 830.3,735.6 834.5,725.6 837.7,725.1 842.4,719.2 846.7,712.8 849.8,700.0 853.0,701.8 857.3,696.4 861.1,694.7 865.8,706.4 869.0,726.6 872.6,737.9 876.4,724.9 880.7,722.0 884.5,722.4 887.1,725.1 891.3,737.7 895.6,730.9 900.0,722.4 904.3,710.7 907.4,709.2 910.6,710.7 914.9,722.0 921.3,723.9 926.6,726.0 929.8,720.3 933.6,717.7 937.8,725.6 942.1,737.9 946.4,742.6 948.9,742.6 952.5,740.5 956.3,723.4 960.6,707.5 964.4,698.6 972.3,711.1 979.7,724.5 984.0,735.1 987.8,745.8 991.0,745.3 994.2,743.6 998.2,733.0 1002.5,703.2 1006.3,698.4 1009.9,694.7 1013.3,696.2 1017.6,707.5 1021.2,710.3 1025.5,675.2 1028.6,690.5 1032.9,693.0 1037.1,691.1 1041.0,689.4 1044.6,687.3 1047.4,671.3 1051.6,663.5 1055.9,661.8 1059.9,664.3 1063.7,675.6 1067.3,675.2 1070.1,673.0 1074.4,678.4 1078.2,676.0 1082.2,679.4 1086.5,672.4 1089.2,673.5 1093.5,689.8 1097.3,683.5 1101.6,666.0 1106.3,662.8 1109.4,661.1 1112.2,660.7 1116.5,668.2 1120.5,659.7 1124.3,663.5 1131.3,683.5 1138.1,679.9 1143.5,675.6 1150.5,666.7 1154.7,667.7 1158.3,671.3 1162.6,663.5 1169.0,659.2 1173.7,655.0 1177.1,660.3 1181.3,665.6 1185.4,660.7 1188.5,669.2 1192.4,659.7 1196.6,666.0 1200.5,676.6 1203.7,674.5 1208.4,666.6 1210.8,665.5 1215.5,660.8 1219.5,658.4 1223.4,655.6 1230.5,682.9 1233.7,681.3 1238.4,685.6 1242.4,688.0 1245.5,688.4 1249.5,693.2 1253.1,696.3 1257.1,680.5 1261.0,673.0 1264.5,675.0 1269.2,671.4 1272.4,677.4 1276.3,678.5 1280.3,672.3 1285.0,703.4 1288.2,714.8 1292.9,715.3 1299.2,722.4" fill="none" stroke="#7e57c2" stroke-width="1.1"/>
<line x1="738.8" y1="776" x2="1390.8" y2="703" stroke="#2196f3" stroke-width="1.2"/>
<line x1="1226.6" y1="649" x2="1283.8" y2="667.1" stroke="#ff9800" stroke-width="2.5"/>
<circle cx="1295.6" cy="717.3" r="15.5" fill="rgba(156,39,176,0.2)" stroke="#9c27b0" stroke-width="1.3"/>
</g>
<rect x="4" y="632" width="82" height="20" fill="rgba(255,255,255,0.5)"/>
<text x="7.5" y="647" font-size="13" font-weight="400" fill="#131722" text-anchor="start" textLength="35.5" lengthAdjust="spacingAndGlyphs">RSI 14</text>
<text x="51" y="647" font-size="13" font-weight="400" fill="#7e57c2" text-anchor="start" textLength="31.5" lengthAdjust="spacingAndGlyphs">47.42</text>
<line x1="0" y1="0.5" x2="1841" y2="0.5" stroke="#dcdde2" stroke-width="1"/>
<line x1="0" y1="625.5" x2="1841" y2="625.5" stroke="#dcdde2" stroke-width="1"/>
<line x1="0" y1="784.5" x2="1841" y2="784.5" stroke="#dcdde2" stroke-width="1"/>
<line x1="1764.5" y1="0" x2="1764.5" y2="822" stroke="#dcdde2" stroke-width="1"/>
<line x1="0" y1="822.5" x2="1841" y2="822.5" stroke="#dcdde2" stroke-width="1"/>
<line x1="1765" y1="6.5" x2="1769" y2="6.5" stroke="#b2b5be" stroke-width="1"/>
<text x="1775.6" y="11.8" font-size="15" font-weight="400" fill="#131722" text-anchor="start" textLength="60.5" lengthAdjust="spacingAndGlyphs">4280.00</text>
<line x1="1765" y1="49.5" x2="1769" y2="49.5" stroke="#b2b5be" stroke-width="1"/>
<text x="1775.6" y="54.8" font-size="15" font-weight="400" fill="#131722" text-anchor="start" textLength="60.5" lengthAdjust="spacingAndGlyphs">4240.00</text>
<line x1="1765" y1="135.5" x2="1769" y2="135.5" stroke="#b2b5be" stroke-width="1"/>
<text x="1775.6" y="140.8" font-size="15" font-weight="400" fill="#131722" text-anchor="start" textLength="60.5" lengthAdjust="spacingAndGlyphs">4160.00</text>
<line x1="1765" y1="221.5" x2="1769" y2="221.5" stroke="#b2b5be" stroke-width="1"/>
<text x="1775.6" y="226.8" font-size="15" font-weight="400" fill="#131722" text-anchor="start" textLength="60.5" lengthAdjust="spacingAndGlyphs">4080.00</text>
<line x1="1765" y1="264.5" x2="1769" y2="264.5" stroke="#b2b5be" stroke-width="1"/>
<text x="1775.6" y="269.8" font-size="15" font-weight="400" fill="#131722" text-anchor="start" textLength="60.5" lengthAdjust="spacingAndGlyphs">4040.00</text>
<line x1="1765" y1="307.5" x2="1769" y2="307.5" stroke="#b2b5be" stroke-width="1"/>
<text x="1775.6" y="312.8" font-size="15" font-weight="400" fill="#131722" text-anchor="start" textLength="60.5" lengthAdjust="spacingAndGlyphs">4000.00</text>
<line x1="1765" y1="350.5" x2="1769" y2="350.5" stroke="#b2b5be" stroke-width="1"/>
<text x="1775.6" y="355.8" font-size="15" font-weight="400" fill="#131722" text-anchor="start" textLength="60.5" lengthAdjust="spacingAndGlyphs">3960.00</text>
<line x1="1765" y1="393.5" x2="1769" y2="393.5" stroke="#b2b5be" stroke-width="1"/>
<text x="1775.6" y="398.8" font-size="15" font-weight="400" fill="#131722" text-anchor="start" textLength="60.5" lengthAdjust="spacingAndGlyphs">3920.00</text>
<line x1="1765" y1="436.5" x2="1769" y2="436.5" stroke="#b2b5be" stroke-width="1"/>
<text x="1775.6" y="441.8" font-size="15" font-weight="400" fill="#131722" text-anchor="start" textLength="60.5" lengthAdjust="spacingAndGlyphs">3880.00</text>
<line x1="1765" y1="479.5" x2="1769" y2="479.5" stroke="#b2b5be" stroke-width="1"/>
<text x="1775.6" y="484.8" font-size="15" font-weight="400" fill="#131722" text-anchor="start" textLength="60.5" lengthAdjust="spacingAndGlyphs">3840.00</text>
<line x1="1765" y1="522.5" x2="1769" y2="522.5" stroke="#b2b5be" stroke-width="1"/>
<text x="1775.6" y="527.8" font-size="15" font-weight="400" fill="#131722" text-anchor="start" textLength="60.5" lengthAdjust="spacingAndGlyphs">3800.00</text>
<line x1="1765" y1="565.5" x2="1769" y2="565.5" stroke="#b2b5be" stroke-width="1"/>
<text x="1775.6" y="570.8" font-size="15" font-weight="400" fill="#131722" text-anchor="start" textLength="60.5" lengthAdjust="spacingAndGlyphs">3760.00</text>
<line x1="1765" y1="608.5" x2="1769" y2="608.5" stroke="#b2b5be" stroke-width="1"/>
<text x="1775.6" y="613.8" font-size="15" font-weight="400" fill="#131722" text-anchor="start" textLength="60.5" lengthAdjust="spacingAndGlyphs">3720.00</text>
<rect x="1765" y="83" width="76" height="25" fill="#f44336"/>
<text x="1776.9" y="101.7" font-size="15" font-weight="400" fill="#ffffff" text-anchor="start" textLength="60.5" lengthAdjust="spacingAndGlyphs" stroke="#ffffff" stroke-width="0.45">4197.17</text>
<path d="M1698 143 H1763 V168 H1698 Q1696 168 1696 166 V145 Q1696 143 1698 143 Z" fill="#ef5350"/>
<text x="1702.6" y="161.5" font-size="15" font-weight="400" fill="#ffffff" text-anchor="start" textLength="52" lengthAdjust="spacingAndGlyphs" stroke="#ffffff" stroke-width="0.45">Euro50</text>
<rect x="1765" y="143" width="76" height="25" fill="#ef5350"/>
<text x="1776.8" y="161.9" font-size="15" font-weight="400" fill="#ffffff" text-anchor="start" textLength="60.5" lengthAdjust="spacingAndGlyphs" stroke="#ffffff" stroke-width="0.45">4141.53</text>
<rect x="1765" y="168" width="76" height="24" fill="#4caf50"/>
<text x="1776.8" y="186" font-size="15" font-weight="400" fill="#ffffff" text-anchor="start" textLength="60.5" lengthAdjust="spacingAndGlyphs" stroke="#ffffff" stroke-width="0.45">4141.03</text>
<line x1="1765" y1="95.5" x2="1769" y2="95.5" stroke="rgba(255,255,255,0.7)" stroke-width="1"/>
<line x1="1765" y1="155.5" x2="1769" y2="155.5" stroke="rgba(255,255,255,0.7)" stroke-width="1"/>
<line x1="1765" y1="180.5" x2="1769" y2="180.5" stroke="rgba(255,255,255,0.7)" stroke-width="1"/>
<g clip-path="url(#ca)">
<line x1="1765" y1="652.5" x2="1769" y2="652.5" stroke="#b2b5be" stroke-width="1"/>
<text x="1775.9" y="656.9" font-size="15" font-weight="400" fill="#131722" text-anchor="start" textLength="42.5" lengthAdjust="spacingAndGlyphs">80.00</text>
<line x1="1765" y1="695.5" x2="1769" y2="695.5" stroke="#b2b5be" stroke-width="1"/>
<text x="1775.9" y="699.9" font-size="15" font-weight="400" fill="#131722" text-anchor="start" textLength="42.5" lengthAdjust="spacingAndGlyphs">60.00</text>
<line x1="1765" y1="738.5" x2="1769" y2="738.5" stroke="#b2b5be" stroke-width="1"/>
<text x="1775.9" y="742.9" font-size="15" font-weight="400" fill="#131722" text-anchor="start" textLength="42.5" lengthAdjust="spacingAndGlyphs">40.00</text>
<line x1="1765" y1="781.5" x2="1769" y2="781.5" stroke="#b2b5be" stroke-width="1"/>
<text x="1775.9" y="785.9" font-size="15" font-weight="400" fill="#131722" text-anchor="start" textLength="42.5" lengthAdjust="spacingAndGlyphs">20.00</text>
</g>
<line x1="11.5" y1="785" x2="11.5" y2="789" stroke="#dcdde2" stroke-width="1"/>
<text x="11.5" y="808" font-size="16" font-weight="400" fill="#131722" text-anchor="middle">Nov</text>
<line x1="125.5" y1="785" x2="125.5" y2="789" stroke="#dcdde2" stroke-width="1"/>
<text x="125.5" y="808" font-size="16" font-weight="400" fill="#131722" text-anchor="middle">8</text>
<line x1="240.5" y1="785" x2="240.5" y2="789" stroke="#dcdde2" stroke-width="1"/>
<text x="240.5" y="808" font-size="16" font-weight="400" fill="#131722" text-anchor="middle">15</text>
<line x1="354.5" y1="785" x2="354.5" y2="789" stroke="#dcdde2" stroke-width="1"/>
<text x="354.5" y="808" font-size="16" font-weight="400" fill="#131722" text-anchor="middle">22</text>
<line x1="514.5" y1="785" x2="514.5" y2="789" stroke="#dcdde2" stroke-width="1"/>
<text x="514.5" y="808" font-size="16" font-weight="700" fill="#131722" text-anchor="middle">Dec</text>
<line x1="628.5" y1="785" x2="628.5" y2="789" stroke="#dcdde2" stroke-width="1"/>
<text x="628.5" y="808" font-size="16" font-weight="400" fill="#131722" text-anchor="middle">8</text>
<line x1="743.5" y1="785" x2="743.5" y2="789" stroke="#dcdde2" stroke-width="1"/>
<text x="743.5" y="808" font-size="16" font-weight="400" fill="#131722" text-anchor="middle">15</text>
<line x1="857.5" y1="785" x2="857.5" y2="789" stroke="#dcdde2" stroke-width="1"/>
<text x="857.5" y="808" font-size="16" font-weight="400" fill="#131722" text-anchor="middle">22</text>
<line x1="994.5" y1="785" x2="994.5" y2="789" stroke="#dcdde2" stroke-width="1"/>
<text x="994.5" y="808" font-size="16" font-weight="700" fill="#131722" text-anchor="middle">2023</text>
<line x1="1108.5" y1="785" x2="1108.5" y2="789" stroke="#dcdde2" stroke-width="1"/>
<text x="1108.5" y="808" font-size="16" font-weight="400" fill="#131722" text-anchor="middle">9</text>
<line x1="1223.5" y1="785" x2="1223.5" y2="789" stroke="#dcdde2" stroke-width="1"/>
<text x="1223.5" y="808" font-size="16" font-weight="400" fill="#131722" text-anchor="middle">16</text>
<line x1="1341.5" y1="785" x2="1341.5" y2="789" stroke="#dcdde2" stroke-width="1"/>
<text x="1341.5" y="808" font-size="16" font-weight="400" fill="#131722" text-anchor="middle">23</text>
<line x1="1501.5" y1="785" x2="1501.5" y2="789" stroke="#dcdde2" stroke-width="1"/>
<text x="1501.5" y="808" font-size="16" font-weight="700" fill="#131722" text-anchor="middle">Feb</text>
<line x1="1615.5" y1="785" x2="1615.5" y2="789" stroke="#dcdde2" stroke-width="1"/>
<text x="1615.5" y="808" font-size="16" font-weight="400" fill="#131722" text-anchor="middle">8</text>
<line x1="1730.5" y1="785" x2="1730.5" y2="789" stroke="#dcdde2" stroke-width="1"/>
<text x="1730.5" y="808" font-size="16" font-weight="400" fill="#131722" text-anchor="middle">15</text>
<rect x="0" y="778" width="1" height="29" fill="#dde0e8"/>
<circle cx="1814.5" cy="827" r="29" fill="rgba(0,0,0,0.25)" filter="url(#sh)"/>
<circle cx="1814.5" cy="826.5" r="28.5" fill="#131d36"/>
<rect x="1803.5" y="814.5" width="23" height="20" rx="3" fill="none" stroke="#ffffff" stroke-width="2.6"/>
</svg></body></html>
